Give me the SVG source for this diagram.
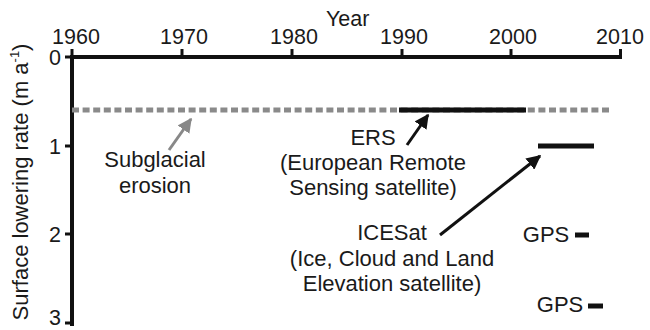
<svg xmlns="http://www.w3.org/2000/svg" width="650" height="330" viewBox="0 0 650 330">
<style>
text{font-family:"Liberation Sans",Arial,sans-serif;fill:#1a1a1a;font-size:21.5px}
.lbl{font-size:22px;text-anchor:middle}
.tk{text-anchor:middle}
.yt{text-anchor:end}
.ax{stroke:#111;stroke-width:4;fill:none}
.tick{stroke:#111;stroke-width:3}
.bar{stroke:#111;stroke-width:5}
.ar{stroke:#111;stroke-width:3;fill:none}
.arg{stroke:#888;stroke-width:3;fill:none}
</style>
<defs>
<marker id="ahb" viewBox="0 0 10 10" refX="9" refY="5" markerWidth="4.8" markerHeight="4.8" orient="auto" markerUnits="strokeWidth">
<path d="M0,0 L10,5 L0,10 z" fill="#111"/>
</marker>
<marker id="ahg" viewBox="0 0 10 10" refX="9" refY="5" markerWidth="4.8" markerHeight="4.8" orient="auto" markerUnits="strokeWidth">
<path d="M0,0 L10,5 L0,10 z" fill="#888"/>
</marker>
</defs>
<g id="axes">
<line class="ax" x1="70" y1="57" x2="622" y2="57"/>
<line class="ax" x1="72" y1="55" x2="72" y2="326"/>
<line class="tick" x1="72" y1="57" x2="72" y2="49"/>
<line class="tick" x1="182" y1="57" x2="182" y2="49"/>
<line class="tick" x1="292" y1="57" x2="292" y2="49"/>
<line class="tick" x1="402" y1="57" x2="402" y2="49"/>
<line class="tick" x1="511" y1="57" x2="511" y2="49"/>
<line class="tick" x1="620.5" y1="57" x2="620.5" y2="49"/>
<line class="tick" x1="65" y1="57" x2="72" y2="57"/>
<line class="tick" x1="65" y1="146" x2="72" y2="146"/>
<line class="tick" x1="65" y1="234" x2="72" y2="234"/>
<line class="tick" x1="65" y1="323" x2="72" y2="323"/>
<text class="tk" x="76" y="44">1960</text>
<text class="tk" x="184" y="44">1970</text>
<text class="tk" x="294" y="44">1980</text>
<text class="tk" x="404" y="44">1990</text>
<text class="tk" x="513" y="44">2000</text>
<text class="tk" x="620" y="44">2010</text>
<text x="326" y="26">Year</text>
<text class="yt" x="61" y="65">0</text>
<text class="yt" x="61" y="154">1</text>
<text class="yt" x="61" y="242">2</text>
<text class="yt" x="61" y="325">3</text>
<text text-anchor="middle" transform="translate(28,182) rotate(-90)" style="font-size:22px">Surface lowering rate (m a<tspan dy="-9" style="font-size:13px">-1</tspan><tspan dy="9">)</tspan></text>
</g>
<g id="subglacial">
<line x1="72" y1="110" x2="609" y2="110" stroke="#8a8a8a" stroke-width="5" stroke-dasharray="7 3.6"/>
<text class="lbl" x="155" y="167">Subglacial</text>
<text class="lbl" x="155" y="193">erosion</text>
</g>
<g id="ers">
<line class="bar" x1="399" y1="110" x2="526" y2="110"/>
<text class="lbl" x="373" y="145">ERS</text>
<text class="lbl" x="373" y="170">(European Remote</text>
<text class="lbl" x="373" y="195">Sensing satellite)</text>
</g>
<g id="icesat">
<line class="bar" x1="538" y1="146" x2="594" y2="146"/>
<text class="lbl" x="392" y="240">ICESat</text>
<text class="lbl" x="392" y="266">(Ice, Cloud and Land</text>
<text class="lbl" x="392" y="291">Elevation satellite)</text>
</g>
<g id="gps1">
<line class="bar" x1="575" y1="235" x2="589" y2="235"/>
<text class="lbl" x="546" y="242">GPS</text>
</g>
<g id="gps2">
<line class="bar" x1="588" y1="306" x2="603" y2="306"/>
<text class="lbl" x="560" y="312">GPS</text>
</g>
<g id="connectors">
<line class="arg" x1="169" y1="150" x2="191" y2="119" marker-end="url(#ahg)"/>
<line class="ar" x1="407" y1="145" x2="428" y2="115" marker-end="url(#ahb)"/>
<line class="ar" x1="440" y1="235" x2="540" y2="156" marker-end="url(#ahb)"/>
</g>
</svg>
